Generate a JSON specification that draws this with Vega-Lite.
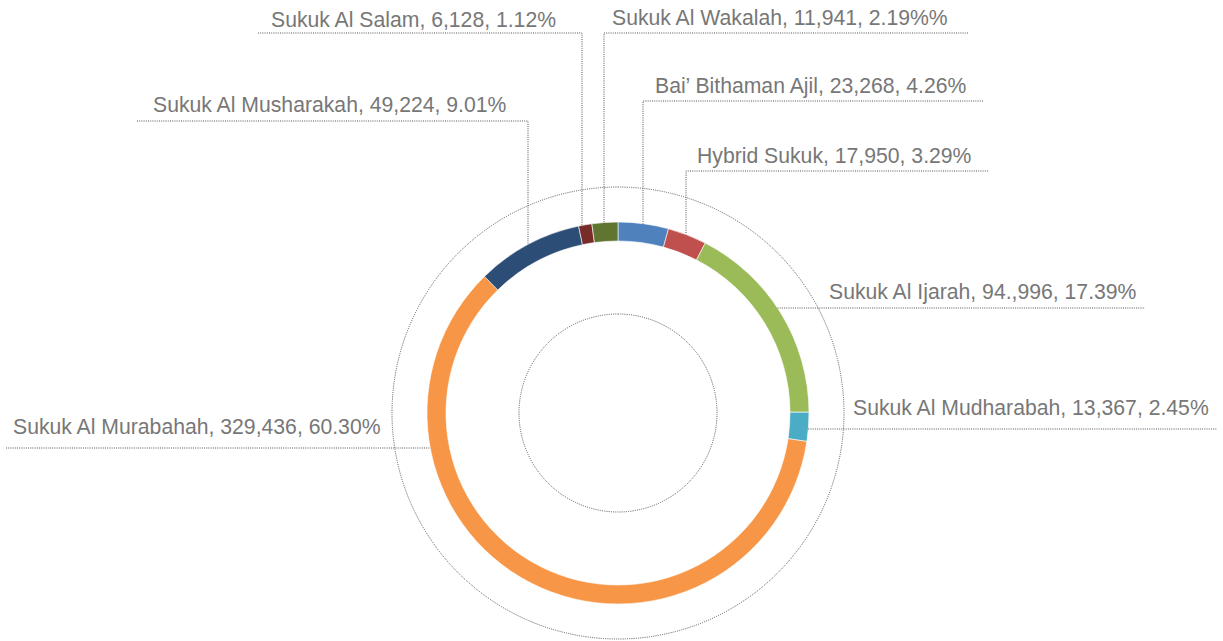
{
  "$schema": "https://vega.github.io/schema/vega-lite/v6.json",
  "width": 1223,
  "height": 641,
  "autosize": {"type": "fit", "contains": "padding"},
  "padding": 0,
  "background": "white",
  "config": {"view": {"stroke": null}},
  "datasets": {
    "sukuk": [
      {"category": "Bai’ Bithaman Ajil", "value": 23268},
      {"category": "Hybrid Sukuk", "value": 17950},
      {"category": "Sukuk Al Ijarah", "value": 94996},
      {"category": "Sukuk Al Mudharabah", "value": 13367},
      {"category": "Sukuk Al Murabahah", "value": 329436},
      {"category": "Sukuk Al Musharakah", "value": 49224},
      {"category": "Sukuk Al Salam", "value": 6128},
      {"category": "Sukuk Al Wakalah", "value": 11941}
    ],
    "labels": [
      {"text": "Sukuk Al Salam, 6,128, 1.12%", "tx": -347, "ty": 386},
      {"text": "Sukuk Al Wakalah, 11,941, 2.19%%", "tx": -6, "ty": 388},
      {"text": "Bai’ Bithaman Ajil, 23,268, 4.26%", "tx": 37, "ty": 320},
      {"text": "Hybrid Sukuk, 17,950, 3.29%", "tx": 79, "ty": 250},
      {"text": "Sukuk Al Musharakah, 49,224, 9.01%", "tx": -465, "ty": 301},
      {"text": "Sukuk Al Ijarah, 94.,996, 17.39%", "tx": 211, "ty": 114},
      {"text": "Sukuk Al Mudharabah, 13,367, 2.45%", "tx": 235, "ty": -2},
      {"text": "Sukuk Al Murabahah, 329,436, 60.30%", "tx": -605, "ty": -21}
    ],
    "leaders": [
      {"label": "Salam", "seq": 1, "lx": -360, "ly": 380},
      {"label": "Salam", "seq": 2, "lx": -36, "ly": 380},
      {"label": "Salam", "seq": 3, "lx": -36, "ly": 188},
      {"label": "Wakalah", "seq": 1, "lx": 350, "ly": 380},
      {"label": "Wakalah", "seq": 2, "lx": -14, "ly": 380},
      {"label": "Wakalah", "seq": 3, "lx": -14, "ly": 190.5},
      {"label": "Bai", "seq": 1, "lx": 365, "ly": 312},
      {"label": "Bai", "seq": 2, "lx": 25, "ly": 312},
      {"label": "Bai", "seq": 3, "lx": 25, "ly": 189.4},
      {"label": "Hybrid", "seq": 1, "lx": 370, "ly": 242},
      {"label": "Hybrid", "seq": 2, "lx": 68, "ly": 242},
      {"label": "Hybrid", "seq": 3, "lx": 68, "ly": 178.5},
      {"label": "Musharakah", "seq": 1, "lx": -481, "ly": 292},
      {"label": "Musharakah", "seq": 2, "lx": -90, "ly": 292},
      {"label": "Musharakah", "seq": 3, "lx": -90, "ly": 168.5},
      {"label": "Ijarah", "seq": 1, "lx": 159.5, "ly": 105},
      {"label": "Ijarah", "seq": 2, "lx": 527, "ly": 105},
      {"label": "Mudharabah", "seq": 1, "lx": 190.3, "ly": -16},
      {"label": "Mudharabah", "seq": 2, "lx": 599, "ly": -16},
      {"label": "Murabahah", "seq": 1, "lx": -612, "ly": -35},
      {"label": "Murabahah", "seq": 2, "lx": -188, "ly": -35}
    ]
  },
  "layer": [
    {
      "data": {"values": [{"guide": "outer"}]},
      "mark": {"type": "arc", "filled": false, "radius": 226, "theta": 0, "theta2": 6.2832, "stroke": "#555555", "strokeWidth": 1, "strokeDash": [1, 1.2]},
      "encoding": {
        "x": {"datum": 0, "type": "quantitative", "scale": {"domain": [-618, 605], "nice": false, "zero": false}, "axis": null},
        "y": {"datum": 0, "type": "quantitative", "scale": {"domain": [-228, 413], "nice": false, "zero": false}, "axis": null}
      }
    },
    {
      "data": {"values": [{"guide": "inner"}]},
      "mark": {"type": "arc", "filled": false, "radius": 99, "theta": 0, "theta2": 6.2832, "stroke": "#555555", "strokeWidth": 1, "strokeDash": [1, 1.2]},
      "encoding": {
        "x": {"datum": 0, "type": "quantitative", "scale": {"domain": [-618, 605], "nice": false, "zero": false}, "axis": null},
        "y": {"datum": 0, "type": "quantitative", "scale": {"domain": [-228, 413], "nice": false, "zero": false}, "axis": null}
      }
    },
    {
      "data": {"name": "sukuk"},
      "transform": [
        {"stack": "value", "groupby": [], "sort": [{"field": "category", "order": "ascending"}], "as": ["v0", "v1"]}
      ],
      "mark": {"type": "arc", "radius": 191, "radius2": 172, "stroke": "white", "strokeWidth": 0.6},
      "encoding": {
        "x": {"datum": 0, "type": "quantitative", "scale": {"domain": [-618, 605], "nice": false, "zero": false}, "axis": null},
        "y": {"datum": 0, "type": "quantitative", "scale": {"domain": [-228, 413], "nice": false, "zero": false}, "axis": null},
        "theta": {"field": "v0", "type": "quantitative", "stack": null, "scale": {"domain": [0, 546310], "zero": true, "nice": false}},
        "theta2": {"field": "v1"},
        "color": {
          "field": "category",
          "type": "nominal",
          "scale": {
            "domain": ["Bai’ Bithaman Ajil", "Hybrid Sukuk", "Sukuk Al Ijarah", "Sukuk Al Mudharabah", "Sukuk Al Murabahah", "Sukuk Al Musharakah", "Sukuk Al Salam", "Sukuk Al Wakalah"],
            "range": ["#4F81BD", "#C0504D", "#9BBB59", "#4BACC6", "#F79646", "#2C4D75", "#772C2A", "#5F7530"]
          },
          "legend": null
        }
      }
    },
    {
      "data": {"name": "leaders"},
      "mark": {"type": "line", "stroke": "#555555", "strokeWidth": 1, "strokeDash": [1, 1.2], "interpolate": "linear"},
      "encoding": {
        "x": {"field": "lx", "type": "quantitative", "scale": {"domain": [-618, 605], "nice": false, "zero": false}, "axis": null},
        "y": {"field": "ly", "type": "quantitative", "scale": {"domain": [-228, 413], "nice": false, "zero": false}, "axis": null},
        "detail": {"field": "label", "type": "nominal"},
        "order": {"field": "seq", "type": "quantitative"}
      }
    },
    {
      "data": {"name": "labels"},
      "mark": {"type": "text", "align": "left", "baseline": "alphabetic", "font": "Liberation Sans", "fontSize": 21.2, "color": "#777777"},
      "encoding": {
        "x": {"field": "tx", "type": "quantitative", "scale": {"domain": [-618, 605], "nice": false, "zero": false}, "axis": null},
        "y": {"field": "ty", "type": "quantitative", "scale": {"domain": [-228, 413], "nice": false, "zero": false}, "axis": null},
        "text": {"field": "text", "type": "nominal"}
      }
    }
  ]
}
